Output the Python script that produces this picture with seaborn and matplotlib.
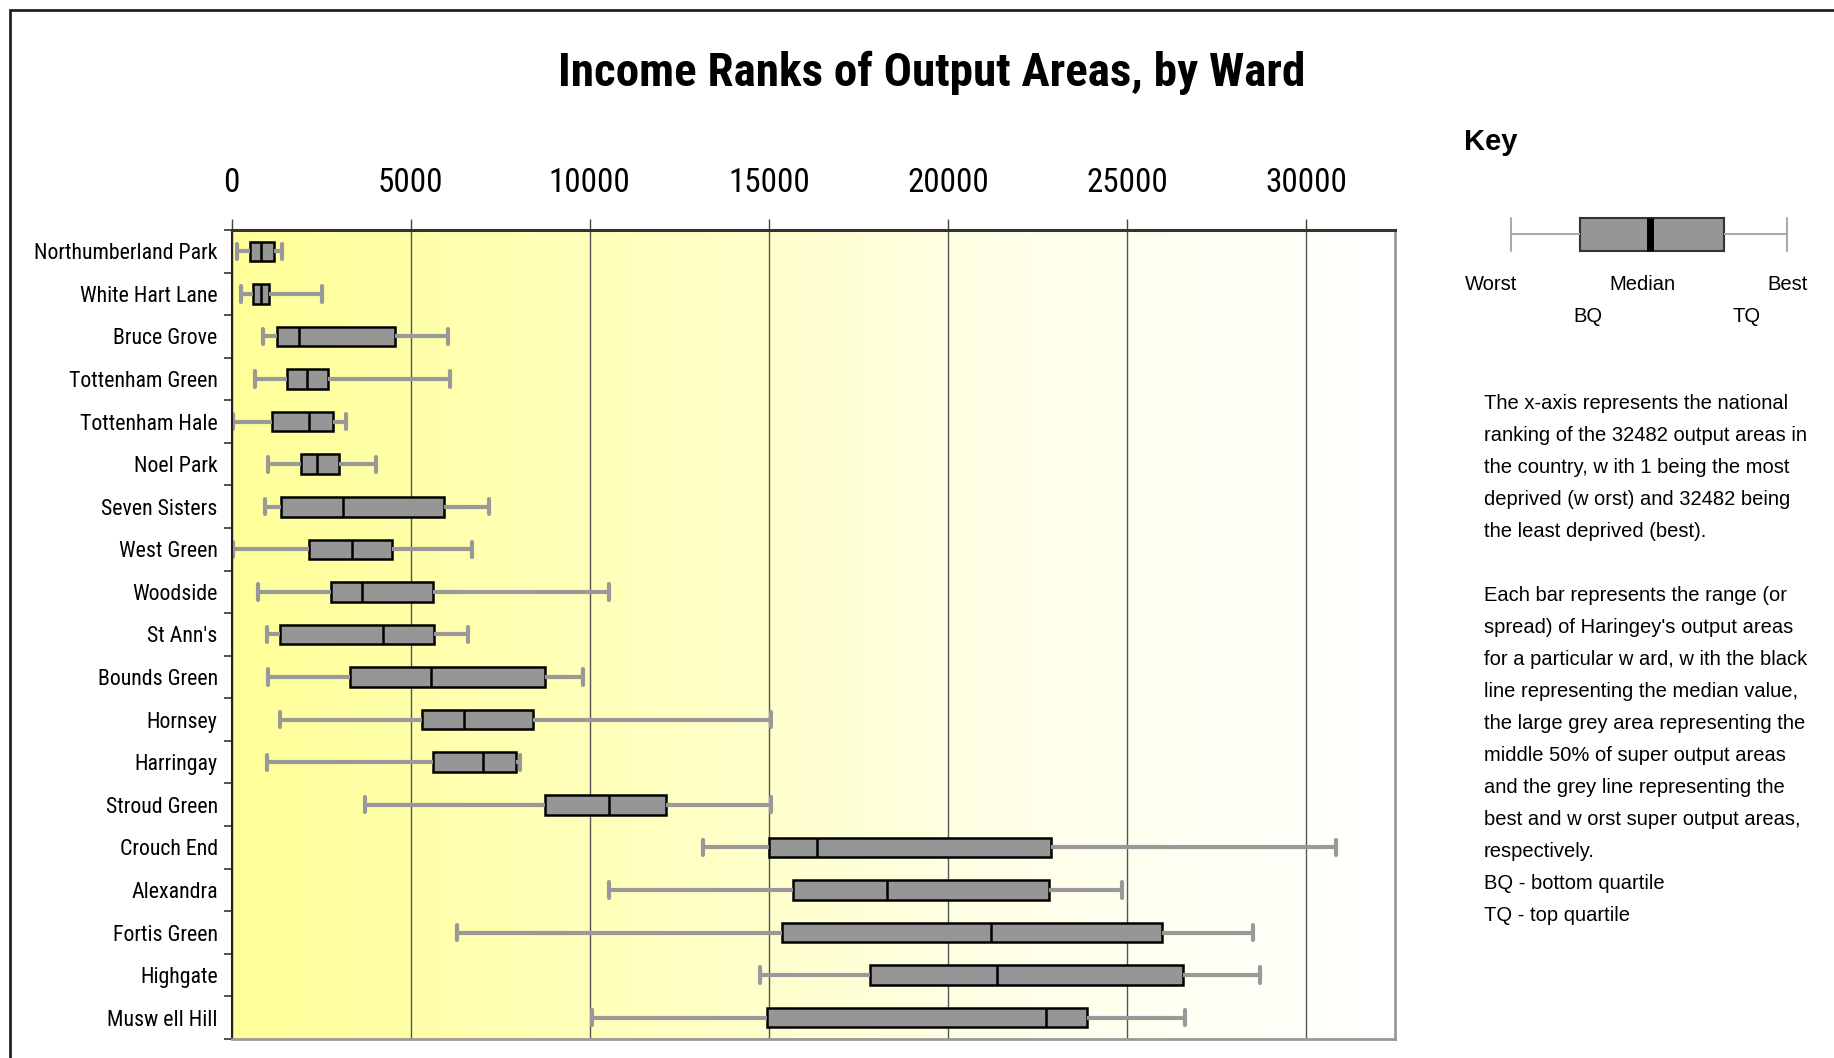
import numpy as np
import pandas as pd
import seaborn as sns
import matplotlib.pyplot as plt
from matplotlib import font_manager as fm
from matplotlib.colors import LinearSegmentedColormap
from matplotlib.patches import Rectangle

wards = ['Northumberland Park', 'White Hart Lane', 'Bruce Grove', 'Tottenham Green',
         'Tottenham Hale', 'Noel Park', 'Seven Sisters', 'West Green', 'Woodside',
         "St Ann's", 'Bounds Green', 'Hornsey', 'Harringay', 'Stroud Green',
         'Crouch End', 'Alexandra', 'Fortis Green', 'Highgate', 'Musw ell Hill']
worst = [150, 250, 875, 660, 50, 1025, 925, 50, 725, 975,
         1025, 1340, 975, 3710, 13170, 10540, 6290, 14760, 10050]
bq = [500, 610, 1275, 1540, 1125, 1950, 1375, 2160, 2775, 1340,
      3300, 5310, 5610, 8760, 15000, 15670, 15370, 17830, 14960]
median = [825, 825, 1890, 2110, 2160, 2375, 3100, 3360, 3650, 4225,
          5560, 6500, 7010, 10525, 16340, 18300, 21215, 21370, 22750]
tq = [1190, 1040, 4550, 2690, 2840, 2990, 5940, 4490, 5625, 5660,
      8760, 8410, 7950, 12125, 22865, 22820, 25990, 26560, 23890]
best = [1400, 2525, 6050, 6090, 3200, 4025, 7175, 6710, 10525, 6610,
        9800, 15060, 8040, 15060, 30830, 24870, 28510, 28720, 26620]
x_ticks = [0, 5000, 10000, 15000, 20000, 25000, 30000]
x_max = 32482

# key sketch: worst, BQ, median, TQ, best (arbitrary units)
key_vals = [0, 69, 139, 213, 276]

notes = ["The x-axis represents the national",
         "ranking of the 32482 output areas in",
         "the country, w ith 1 being the most",
         "deprived (w orst) and 32482 being",
         "the least deprived (best).",
         "",
         "Each bar represents the range (or",
         "spread) of Haringey's output areas",
         "for a particular w ard, w ith the black",
         "line representing the median value,",
         "the large grey area representing the",
         "middle 50% of super output areas",
         "and the grey line representing the",
         "best and w orst super output areas,",
         "respectively.",
         "BQ - bottom quartile",
         "TQ - top quartile"]

# five points per ward -> quartiles land exactly on the values
rows = []
for i, w in enumerate(wards):
    for v in (worst[i], bq[i], median[i], tq[i], best[i]):
        rows.append({'ward': w, 'rank': v})
df = pd.DataFrame(rows)

sns.set_style('white')
plt.rcParams['font.family'] = ['Liberation Sans', 'DejaVu Sans']
for k in ('text.color', 'xtick.color', 'ytick.color', 'axes.labelcolor'):
    plt.rcParams[k] = 'black'

# look for a narrow face, like the Arial Narrow of the original
names = {f.name for f in fm.fontManager.ttflist}
cond = {f.name for f in fm.fontManager.ttflist if f.stretch in ('condensed', 'semi-condensed', 'extra-condensed')}
narrow = dict(family='Liberation Sans')
for c in ['Liberation Sans Narrow', 'Arial Narrow', 'Roboto Condensed', 'Open Sans Condensed',
          'Noto Sans Condensed', 'DejaVu Sans Condensed']:
    if c in names:
        narrow = dict(family=c)
        break
else:
    for c in ['Noto Sans', 'Roboto', 'Open Sans', 'DejaVu Sans']:
        if c in cond:
            narrow = dict(family=c, stretch='condensed')
            break

fig = plt.figure(figsize=(18.34, 10.58), dpi=100)
renderer = fig.canvas.get_renderer()


def fit_size(s, target_px, **kw):
    # font size that gives the reference's text width
    t = fig.text(0, 0, s, fontsize=20, **kw)
    w = t.get_window_extent(renderer).width
    t.remove()
    return 20 * target_px / w


ylab_size = fit_size('Northumberland Park', 184, **narrow)
xlab_size = fit_size('10000', 82, **narrow)
title_size = fit_size('Income Ranks of Output Areas, by Ward', 746, fontweight='bold', **narrow)

pos = [0.1263, 0.018, 0.7606 - 0.1263, 0.7826 - 0.018]

# yellow -> white background
bg = fig.add_axes(pos, zorder=0)
grad = np.linspace(0, 1, 512).reshape(1, -1)
bg_cmap = LinearSegmentedColormap.from_list(
    'bg', [(0, '#ffff99'), (0.4, '#ffffc4'), (0.66, '#ffffe8'), (1, '#ffffff')])
bg.imshow(grad, aspect='auto', cmap=bg_cmap, extent=[0, 1, 0, 1])
bg.axis('off')

ax = fig.add_axes(pos, zorder=1)
ax.set_facecolor('none')
sns.boxplot(data=df, x='rank', y='ward', orient='h', whis=(0, 100), width=0.46,
            ax=ax, capwidths=0.36,
            boxprops=dict(facecolor='#969696', edgecolor='black', linewidth=1.8),
            whiskerprops=dict(color='#999999', linewidth=3),
            capprops=dict(color='#999999', linewidth=3),
            medianprops=dict(color='black', linewidth=1.8))

ax.set_xlim(0, x_max)
ax.set_ylim(len(wards) - 0.5, -0.5)
ax.set_xticks(x_ticks)
ax.xaxis.tick_top()
ax.tick_params(axis='x', top=True, length=8, width=1, color='#444444', pad=14, labelsize=xlab_size)
for lab in ax.get_xticklabels():
    lab.set(**narrow)
ax.set_yticks(range(len(wards)))
ax.set_yticklabels(wards, fontsize=ylab_size, **narrow)
ax.set_yticks(np.arange(len(wards) + 1) - 0.5, minor=True)
ax.tick_params(axis='y', which='major', left=True, length=0, pad=10)
ax.tick_params(axis='y', which='minor', left=True, length=6, width=1.2, color='#333333')
ax.set_xlabel('')
ax.set_ylabel('')
ax.grid(axis='x', color='#555555', linewidth=1)
ax.set_axisbelow(True)
ax.spines['top'].set_color('#333333')
ax.spines['top'].set_linewidth(2.2)
ax.spines['left'].set_color('#222222')
ax.spines['left'].set_linewidth(1.5)
for s in ('right', 'bottom'):
    ax.spines[s].set_color('#999999')
    ax.spines[s].set_linewidth(2)

fig.text(0.508, 0.931, 'Income Ranks of Output Areas, by Ward', ha='center', va='center',
         fontsize=title_size, fontweight='bold', **narrow)

# key
fig.text(0.7983, 0.866, 'Key', ha='left', va='center', fontsize=21, fontweight='bold')
kax = fig.add_axes([(1508) / 1834, 1 - 259 / 1058, 282 / 1834, 50 / 1058])
sns.boxplot(x=key_vals, ax=kax, whis=(0, 100), width=0.66, capwidths=0.66,
            boxprops=dict(facecolor='#969696', edgecolor='#333333', linewidth=1.5),
            whiskerprops=dict(color='#aaaaaa', linewidth=1.5),
            capprops=dict(color='#aaaaaa', linewidth=1.5),
            medianprops=dict(color='black', linewidth=5))
kax.set_xlim(-3, 279)
kax.set_ylim(0.5, -0.5)
kax.axis('off')

for label, xp, yp in [('Worst', 1491, 284), ('Median', 1642, 284), ('Best', 1788, 284),
                      ('BQ', 1588, 317), ('TQ', 1747, 317)]:
    fig.text(xp / 1834, 1 - yp / 1058, label, ha='center', va='center', fontsize=14.5)

for i, line in enumerate(notes):
    fig.text(1484 / 1834, 1 - (403.5 + 32 * i) / 1058, line, ha='left', va='center',
             fontsize=14.5)

# outer frame (cut by the right and bottom edges)
fig.patches.append(Rectangle((10 / 1834, -0.1), 1.2, 1.1 - 10 / 1058, transform=fig.transFigure,
                             fill=False, edgecolor='#222222', linewidth=2))

fig.savefig('out.png', dpi=100)
